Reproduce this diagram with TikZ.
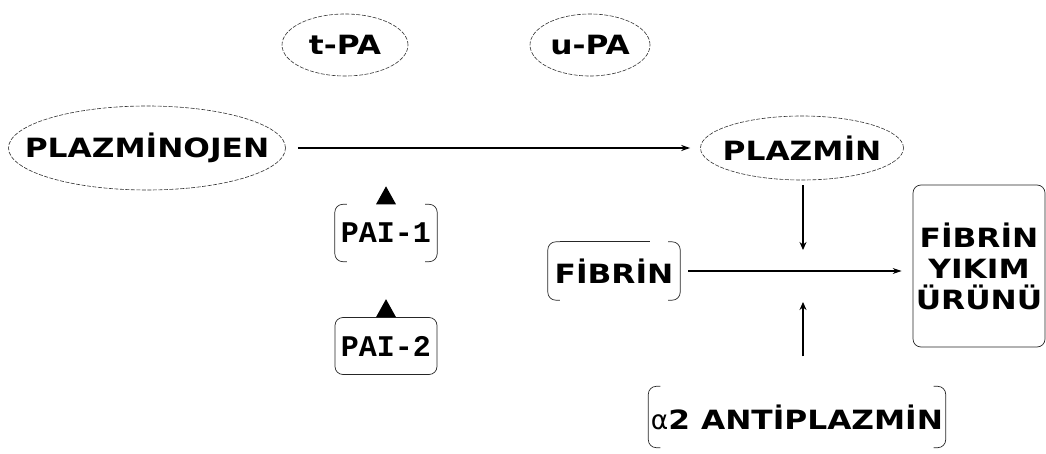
\documentclass[tikz,border=0pt]{standalone}
\usepackage{fontspec}
\usetikzlibrary{shapes.geometric,arrows.meta,calc}
\newfontfamily\cf{DejaVu Sans Bold}[FakeStretch=1.18]
\newfontfamily\cfreg{DejaVu Sans}
\newfontfamily\mf{Liberation Mono Bold}
\begin{document}
\begin{tikzpicture}[x=1pt,y=-1pt,
  lbl/.style={font=\cf\fontsize{26.5}{31}\selectfont, inner sep=0pt},
  oval/.style={lbl, ellipse, draw=black!80, line width=0.6pt, dash pattern=on 4pt off 1.5pt, inner xsep=-60pt, inner ysep=-20pt},
  boxfull/.style={lbl, draw=black!85, line width=0.7pt, rounded corners=8pt},
  boxopen/.style={lbl},
  conn/.style={line width=1.1pt, -{Stealth[length=9pt,width=6pt]}},
  vconn/.style={line width=2pt, -{Stealth[length=8pt,width=7pt]}},
  brk/.style={draw=black!85, line width=0.7pt, rounded corners=8pt},
  tri/.style={fill=black}]
\useasboundingbox (0,0) rectangle (1046,454);

\node[oval, minimum width=126, minimum height=62] (tpa) at (345,45) {t-PA};
\node[oval, minimum width=120, minimum height=62] (upa) at (590,45) {u-PA};
\node[oval, minimum width=277, minimum height=84] (plg) at (147,148) {PLAZMİNOJEN};
\node[oval, minimum width=203, minimum height=64] (plm) at (802,148) {PLAZMİN};

\node[boxopen, font=\mf\fontsize{30}{32}\selectfont, minimum width=102, minimum height=57] (pai1) at (386,233) {PAI-1};
\node[boxfull, font=\mf\fontsize{30}{32}\selectfont, minimum width=102, minimum height=57] (pai2) at (386,346) {PAI-2};
\node[boxopen, minimum width=132, minimum height=58] (fib) at (614,271) {FİBRİN};
\node[boxfull, minimum width=132, minimum height=162, align=center] (fyu) at (979,266) {FİBRİN\\YIKIM\\ÜRÜNÜ};
\node[boxopen, minimum width=297, minimum height=61] (a2) at (797,417) {{\cfreg α}2 ANTİPLAZMİN};

% open (bracket-like) outlines
\foreach \n in {pai1,fib,a2}{
  \draw[brk] ([xshift=12pt]\n.north west) -- (\n.north west) -- (\n.south west) -- ([xshift=12pt]\n.south west);
  \draw[brk] ([xshift=-12pt]\n.north east) -- (\n.north east) -- (\n.south east) -- ([xshift=-12pt]\n.south east);
}
\draw[brk] ([xshift=12pt]fib.north west) -- ([xshift=-30pt]fib.north east);

% junction points
\coordinate (jtop) at (803,250);
\coordinate (jbot) at (803,302);

% connectors
\draw[conn, shorten <=12pt, shorten >=10pt] (plg.east) -- (plg.east -| plm.west);
\draw[conn, shorten <=8pt, shorten >=11pt] (fib.east) -- (fib.east -| fyu.west);
\draw[vconn, shorten <=5pt] (plm.south -| jtop) -- (jtop);
\draw[vconn, shorten <=30pt] (a2.north -| jbot) -- (jbot);

% inhibitor triangles
\fill[tri] ([xshift=-10pt]pai1.north) -- ([xshift=10pt]pai1.north) -- ([yshift=18pt]pai1.north) -- cycle;
\fill[tri] ([xshift=-10pt]pai2.north) -- ([xshift=10pt]pai2.north) -- ([yshift=18pt]pai2.north) -- cycle;
\end{tikzpicture}
\end{document}
